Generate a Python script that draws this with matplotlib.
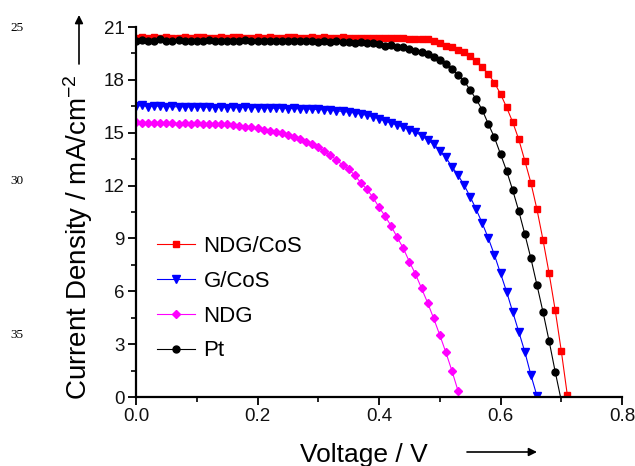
import matplotlib
matplotlib.use('Agg')
import matplotlib.pyplot as plt
import numpy as np

plt.rcParams['font.family'] = ['Liberation Sans', 'DejaVu Sans']
plt.rcParams['mathtext.fontset'] = 'custom'
plt.rcParams['mathtext.rm'] = 'Liberation Sans'
plt.rcParams['mathtext.it'] = 'Liberation Sans'

# current density (mA/cm2), one reading every 0.01 V starting at 0 V
V_STEP = 0.01

j_ndg_cos = [20.40, 20.42, 20.38, 20.41, 20.40, 20.43, 20.39, 20.40, 20.42, 20.38,
             20.41, 20.44, 20.40, 20.39, 20.42, 20.40, 20.41, 20.43, 20.40, 20.39,
             20.41, 20.40, 20.42, 20.39, 20.40, 20.41, 20.43, 20.40, 20.39, 20.41,
             20.40, 20.42, 20.38, 20.40, 20.41, 20.39, 20.40, 20.38, 20.39, 20.37,
             20.38, 20.36, 20.37, 20.35, 20.36, 20.34, 20.33, 20.32, 20.30,
             20.22, 20.07, 19.94, 19.85, 19.69, 19.56, 19.35, 19.09, 18.71, 18.33,
             17.84, 17.20, 16.44, 15.61, 14.63, 13.41, 12.16, 10.65,
             8.91, 7.02, 4.94, 2.63, 0.11]

j_g_cos = [16.50, 16.55, 16.48, 16.52, 16.50, 16.47, 16.49, 16.46, 16.48, 16.45,
           16.47, 16.44, 16.46, 16.43, 16.45, 16.42, 16.44, 16.41, 16.45, 16.43,
           16.42, 16.40, 16.41, 16.38, 16.40, 16.37, 16.38, 16.35, 16.36, 16.33,
           16.32, 16.30, 16.27, 16.24, 16.21, 16.17, 16.12, 16.06, 15.99, 15.91,
           15.80, 15.66, 15.55, 15.44, 15.32, 15.17, 15.02, 14.84, 14.58, 14.35,
           13.97, 13.60, 13.07, 12.60, 12.03, 11.37, 10.65, 9.86, 9.01, 8.06,
           7.02, 5.98, 4.84, 3.71, 2.57, 1.25, 0.06]

j_ndg = [15.58, 15.55, 15.57, 15.54, 15.56, 15.53, 15.55, 15.52, 15.54, 15.51,
         15.53, 15.50, 15.52, 15.49, 15.50, 15.47, 15.44, 15.40, 15.35, 15.30,
         15.24, 15.18, 15.12, 15.06, 14.98, 14.89, 14.78, 14.65, 14.50, 14.35,
         14.17, 13.95, 13.73, 13.45, 13.17, 12.92, 12.60, 12.16, 11.79, 11.33,
         10.77, 10.27, 9.70, 9.06, 8.44, 7.68, 6.98, 6.17, 5.35, 4.46,
         3.52, 2.54, 1.49, 0.36]

j_pt = [20.22, 20.25, 20.20, 20.23, 20.30, 20.21, 20.18, 20.24, 20.22, 20.20,
        20.23, 20.21, 20.25, 20.22, 20.20, 20.23, 20.21, 20.22, 20.24, 20.20,
        20.22, 20.21, 20.23, 20.19, 20.22, 20.20, 20.21, 20.18, 20.22, 20.20,
        20.17, 20.19, 20.16, 20.18, 20.15, 20.14, 20.12, 20.13, 20.10, 20.08,
        20.03, 19.92, 19.98, 19.85, 19.88, 19.73, 19.65, 19.56, 19.45, 19.31,
        19.13, 18.90, 18.63, 18.27, 17.95, 17.42, 16.90, 16.29, 15.49, 14.73,
        13.79, 12.84, 11.75, 10.56, 9.25, 7.87, 6.36, 4.82, 3.18, 1.44,
        -0.20]

labels = ['NDG/CoS', 'G/CoS', 'NDG', 'Pt']
colors = ['#ff0000', '#0000ff', '#ff00ff', '#000000']
markers = ['s', 'v', 'D', 'o']
msizes = [4.6, 5.4, 4.4, 5.0]
series = [j_ndg_cos, j_g_cos, j_ndg, j_pt]


def volts(j):
    return np.round(np.arange(len(j)) * V_STEP, 2)


fig = plt.figure(figsize=(6.35, 4.66), dpi=100)
ax = fig.add_axes([136 / 635, 1 - 397 / 466, 486 / 635, 370 / 466])

for j, lab, c, m, ms in zip(series, labels, colors, markers, msizes):
    ax.plot(volts(j), j, '-', color=c, lw=0.8, marker=m, ms=ms,
            mec=c, mfc=c, label=lab)

ax.set_xlim(0, 0.8)
ax.set_ylim(0, 21)
ax.set_xticks([0.0, 0.2, 0.4, 0.6, 0.8])
ax.set_xticks([0.1, 0.3, 0.5, 0.7], minor=True)
ax.set_yticks(range(0, 22, 3))
ax.set_yticks(np.arange(1.5, 21, 3), minor=True)
ax.set_xticklabels(['0.0', '0.2', '0.4', '0.6', '0.8'])

ax.spines['top'].set_visible(False)
ax.spines['right'].set_visible(False)
ax.spines['left'].set_linewidth(1.6)
ax.spines['bottom'].set_linewidth(1.6)
ax.tick_params(which='major', direction='out', length=6, width=1.4,
               labelsize=13.5, pad=2, colors='#111111')
ax.tick_params(which='minor', direction='out', length=3.5, width=1.2)

leg = ax.legend(loc='upper left', bbox_to_anchor=(0.043, 0.435), frameon=False,
                fontsize=16, handlelength=1.7, handletextpad=0.4,
                labelspacing=0.62, borderpad=0, borderaxespad=0, numpoints=1)

# axis titles with arrows, placed like the original figure
fig.text(78 / 635, 1 - 237 / 466, 'Current Density / mA/cm$^{-2}$',
         rotation=90, ha='center', va='center', fontsize=20)
fig.text(364 / 635, 1 - 462 / 466, 'Voltage / V', ha='center', va='baseline',
         fontsize=19)
ax.annotate('', xy=(79 / 635, 1 - 15 / 466), xytext=(79 / 635, 1 - 64 / 466),
            xycoords='figure fraction', textcoords='figure fraction',
            arrowprops=dict(arrowstyle='-|>', color='black', lw=1.2,
                            mutation_scale=12, shrinkA=0, shrinkB=0))
ax.annotate('', xy=(537 / 635, 1 - 452 / 466), xytext=(467 / 635, 1 - 452 / 466),
            xycoords='figure fraction', textcoords='figure fraction',
            arrowprops=dict(arrowstyle='-|>', color='black', lw=1.2,
                            mutation_scale=12, shrinkA=0, shrinkB=0))

# line numbers from the source page
for num, ypix in [('25', 28), ('30', 181), ('35', 335)]:
    fig.text(17 / 635, 1 - ypix / 466, num, ha='center', va='center',
             fontsize=9.5, family='Liberation Serif')

fig.savefig('out.png', dpi=100)
